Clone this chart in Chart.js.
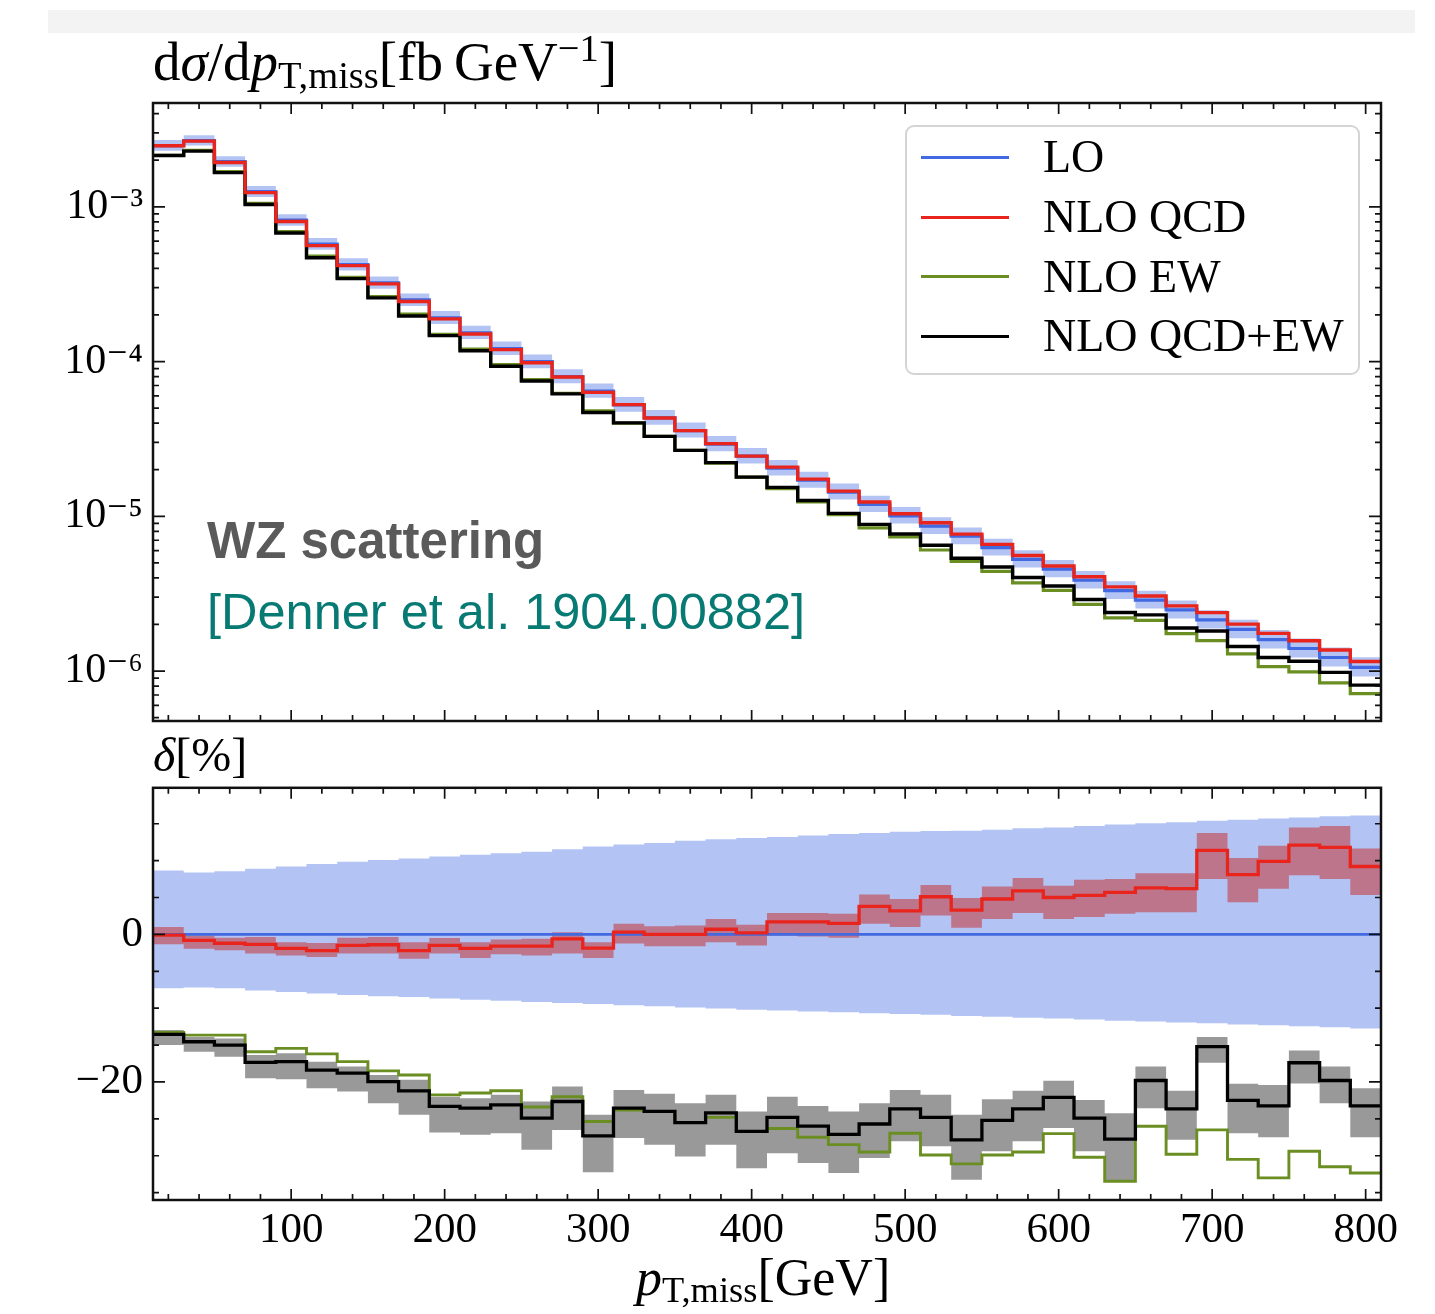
<!DOCTYPE html>
<html><head><meta charset="utf-8">
<script src="https://cdn.jsdelivr.net/npm/chart.js@4.4.1/dist/chart.umd.min.js"></script>
<style>
html,body{margin:0;padding:0;background:#fff;}
body{width:1435px;height:1314px;position:relative;overflow:hidden;font-family:'Liberation Serif',serif;}
#strip{position:absolute;left:48px;top:10px;width:1367px;height:23px;background:#f3f3f3;}
canvas{position:absolute;left:0;}
#c1{top:0;}
#c2{top:760px;}
.t{position:absolute;white-space:nowrap;line-height:1;color:#000;}
.sub{font-size:0.7em;position:relative;top:0.2em;}
.sup{font-size:0.7em;position:relative;top:-0.5em;}
#legend{position:absolute;left:905px;top:125px;width:451px;height:246px;border:2px solid #d4d4d4;border-radius:9px;background:rgba(255,255,255,0.85);}
.lline{position:absolute;left:14px;width:88px;height:3px;}
.ltext{position:absolute;left:136px;font-size:46px;line-height:1;white-space:nowrap;font-family:'Liberation Serif',serif;}
.ann1{font-family:'Liberation Sans',Arial,sans-serif;font-weight:bold;color:#5a5a5a;font-size:51px;}
.ann2{font-family:'Liberation Sans',Arial,sans-serif;color:#087a74;font-size:50.5px;}
</style>
</head><body>
<div id="strip"></div>
<canvas id="c1" width="1435" height="760"></canvas>
<canvas id="c2" width="1435" height="554"></canvas>

<div class="t" style="left:153px;top:34px;font-size:55px;">d<i>σ</i>/d<i>p</i><span class="sub">T,miss</span>[fb&#8201;GeV<span class="sup">−1</span>]</div>
<div class="t" style="left:153px;top:731px;font-size:48px;"><i>δ</i>[%]</div>
<div class="t" style="left:636px;top:1252px;font-size:52px;"><i>p</i><span class="sub">T,miss</span>[GeV]</div>

<div class="t ann1" style="left:207px;top:515px;">WZ scattering</div>
<div class="t ann2" style="left:207px;top:587px;">[Denner et al. 1904.00882]</div>

<div id="legend">
  <div class="lline" style="top:29px;background:#4169e1;"></div>
  <div class="ltext" style="top:7px;">LO</div>
  <div class="lline" style="top:89px;background:#e8241c;"></div>
  <div class="ltext" style="top:67px;">NLO QCD</div>
  <div class="lline" style="top:148px;background:#6b8e23;"></div>
  <div class="ltext" style="top:127px;">NLO EW</div>
  <div class="lline" style="top:208px;background:#000;"></div>
  <div class="ltext" style="top:186px;">NLO QCD+EW</div>
</div>

<script>
// ---------------- data ----------------
const binEdges = [10,30,50,70,90,110,130,150,170,190,210,230,250,270,290,310,330,350,370,390,410,430,450,470,490,510,530,550,570,590,610,630,650,670,690,710,730,750,770,790,810];

// LO differential cross section [fb/GeV], one value per bin
const loXsec = [2.484e-3,2.68e-3,1.956e-3,1.252e-3,8.19e-4,5.74e-4,4.23e-4,3.22e-4,2.50e-4,1.917e-4,
                1.535e-4,1.213e-4,9.98e-5,7.99e-5,6.44e-5,5.25e-5,4.32e-5,3.58e-5,2.93e-5,2.445e-5,
                2.044e-5,1.71e-5,1.433e-5,1.193e-5,1.007e-5,8.64e-6,7.43e-6,6.28e-6,5.27e-6,4.55e-6,
                3.86e-6,3.31e-6,2.875e-6,2.484e-6,2.142e-6,1.858e-6,1.594e-6,1.399e-6,1.223e-6,1.056e-6];

// LO scale band, relative [%]
const loBandHigh = [8.65,8.4,8.55,8.9,9.2,9.55,9.85,10.1,10.3,10.55,10.8,11.0,11.2,11.55,11.9,12.2,12.4,12.7,12.9,13.05,
                    13.2,13.4,13.6,13.75,13.9,14.0,14.05,14.2,14.4,14.5,14.7,14.9,15.05,15.2,15.4,15.55,15.7,15.85,16.0,16.1];
const loBandLow  = [-7.3,-7.2,-7.3,-7.6,-7.8,-8.0,-8.2,-8.4,-8.5,-8.7,-8.85,-9.0,-9.15,-9.3,-9.45,-9.6,-9.75,-9.9,-10.05,-10.2,
                    -10.3,-10.45,-10.55,-10.7,-10.8,-10.9,-11.05,-11.15,-11.3,-11.4,-11.55,-11.7,-11.8,-11.95,-12.05,-12.2,-12.3,-12.45,-12.6,-12.75];
const deltaLO    = [0,0,0,0,0,0,0,0,0,0,0,0,0,0,0,0,0,0,0,0,0,0,0,0,0,0,0,0,0,0,0,0,0,0,0,0,0,0,0,0];

// NLO QCD relative correction [%] and its band
const deltaQCD     = [-0.1,-0.8,-1.2,-1.35,-1.9,-2.2,-1.5,-1.4,-2.2,-1.5,-1.9,-1.6,-1.6,-0.6,-1.85,0.3,0.0,0.0,0.7,0.2,
                      1.7,1.7,1.5,3.8,3.2,5.1,3.3,4.8,5.9,5.0,5.3,5.7,6.3,6.2,11.4,8.1,9.9,12.1,11.8,9.2];
const deltaQCDHigh = [1.0,-0.15,-0.45,-0.35,-1.05,-1.15,-0.45,-0.35,-1.05,-0.5,-1.05,-0.7,-0.6,0.3,-1.05,1.45,1.1,1.2,2.1,1.3,
                      2.9,2.9,2.8,5.4,4.8,6.7,4.95,6.5,7.65,6.6,7.4,7.5,8.3,8.3,13.75,10.35,12.0,14.5,14.7,11.65];
const deltaQCDLow  = [-1.35,-1.95,-2.15,-2.6,-2.85,-3.05,-2.6,-2.6,-3.3,-2.6,-3.2,-2.7,-2.85,-2.6,-3.2,-1.25,-1.6,-1.6,-1.05,-1.5,
                      -0.15,-0.3,-0.45,1.45,1.0,2.55,0.9,2.1,2.9,2.1,2.35,2.8,3.0,3.0,7.5,4.35,6.2,8.0,7.5,5.35];

// NLO EW relative correction [%]
const deltaEW = [-13.3,-13.65,-13.65,-15.9,-15.45,-16.2,-17.25,-18.5,-19.05,-21.75,-21.5,-21.2,-23.4,-22.0,-25.35,-23.8,-24.0,-25.5,-24.8,-26.7,
                 -26.3,-27.5,-28.5,-29.5,-26.95,-29.9,-31.1,-29.9,-29.5,-27.0,-30.2,-33.45,-26.0,-29.8,-26.5,-30.5,-33.0,-29.4,-31.5,-32.35];

// NLO QCD+EW relative correction [%] and its band
const deltaQCDEW     = [-13.55,-14.55,-15.0,-17.35,-17.25,-18.4,-18.8,-19.95,-21.2,-23.3,-23.55,-23.1,-24.9,-22.65,-27.3,-23.55,-24.0,-25.5,-24.2,-26.7,
                        -24.8,-26.0,-27.1,-25.7,-23.65,-24.8,-27.85,-25.2,-23.65,-22.1,-24.9,-27.75,-19.8,-23.65,-15.2,-22.5,-23.25,-17.4,-19.8,-23.25];
const deltaQCDEWHigh = [-12.97,-13.9,-14.1,-16.35,-16.1,-17.25,-17.9,-19.05,-19.7,-22.0,-22.2,-21.75,-22.65,-20.6,-24.45,-21.1,-21.6,-22.9,-21.75,-24.0,
                        -22.0,-23.25,-24.0,-22.9,-21.1,-21.75,-24.45,-22.35,-21.2,-19.85,-22.45,-24.25,-17.9,-21.2,-13.9,-20.25,-20.4,-15.75,-17.9,-20.85];
const deltaQCDEWLow  = [-15.0,-15.9,-16.6,-19.5,-19.65,-20.85,-21.3,-22.9,-24.45,-26.85,-27.15,-26.95,-29.2,-26.5,-32.25,-27.6,-28.5,-30.1,-28.5,-31.7,
                        -29.65,-31.0,-32.35,-30.3,-28.05,-28.7,-33.25,-29.4,-28.05,-26.25,-29.4,-33.45,-23.55,-27.85,-17.4,-26.95,-27.5,-20.2,-22.9,-27.5];

// tick labels
const xTickValues = [100,200,300,400,500,600,700,800];
const xTickLabels = ['100','200','300','400','500','600','700','800'];
const yTopTickValues = [1e-6,1e-5,1e-4,1e-3];
const yTopTickLabels = ['10⁻⁶','10⁻⁵','10⁻⁴','10⁻³'];
const yBotTickValues = [-20,0];
const yBotTickLabels = ['−20','0'];

// ---------------- helpers ----------------
const C = {
  blue:'#4169e1', red:'#e8241c', green:'#6b8e23', black:'#000000',
  blueBand:'rgba(65,105,225,0.40)', redBand:'rgba(200,40,35,0.50)', greyBand:'#999999'
};
const FONT = "'Liberation Serif', 'DejaVu Serif', serif";

function hist(vals){ // step-histogram points on the bin edges
  return binEdges.map((e,i)=>({x:e, y: vals[Math.min(i, vals.length-1)]}));
}
function scaleRel(base, rel){ return base.map((b,i)=>b*(1+rel[i]/100)); }

const frameTicks = {
  id:'frameTicks',
  afterDraw(chart, args, o){
    const {ctx, chartArea:a} = chart;
    const sx = chart.scales.x, sy = chart.scales.y;
    ctx.save();
    ctx.strokeStyle = '#111';
    ctx.lineWidth = 1.7;
    ctx.beginPath();
    const vt = (v,len)=>{ const p = sx.getPixelForValue(v); ctx.moveTo(p,a.bottom); ctx.lineTo(p,a.bottom-len); ctx.moveTo(p,a.top); ctx.lineTo(p,a.top+len); };
    const ht = (v,len)=>{ const p = sy.getPixelForValue(v); ctx.moveTo(a.left,p); ctx.lineTo(a.left+len,p); ctx.moveTo(a.right,p); ctx.lineTo(a.right-len,p); };
    o.xMajor.forEach(v=>vt(v,11)); o.xMinor.forEach(v=>vt(v,6));
    o.yMajor.forEach(v=>ht(v,12)); o.yMinor.forEach(v=>ht(v,6));
    ctx.stroke();
    ctx.lineWidth = 2.5;
    ctx.strokeRect(a.left, a.top, a.right-a.left, a.bottom-a.top);
    ctx.restore();
  }
};

const xMinor = []; for(let v=20; v<=800; v+=20){ if(v%100) xMinor.push(v); }
const yTopMinor = []; for(let d=-7; d<=-3; d++){ for(let m=2;m<=9;m++){ const v=m*Math.pow(10,d); if(v>4.76e-7 && v<4.68e-3) yTopMinor.push(v);} }
const yBotMinor = []; for(let v=-35; v<=15; v+=5){ if(v!==0 && v!==-20) yBotMinor.push(v); }

function lineDS(label, vals, color, width, order){
  return {label, data:hist(vals), borderColor:color, borderWidth:width, backgroundColor:color,
          stepped:true, pointRadius:0, fill:false, order, borderJoinStyle:'miter', borderCapStyle:'butt'};
}
function bandDS(hi, lo, color, order){
  return [
    {data:hist(hi), borderWidth:0, borderColor:'rgba(0,0,0,0)', backgroundColor:color, stepped:true, pointRadius:0, fill:'+1', order},
    {data:hist(lo), borderWidth:0, borderColor:'rgba(0,0,0,0)', backgroundColor:'rgba(0,0,0,0)', stepped:true, pointRadius:0, fill:false, order}
  ];
}

// ---------------- top panel ----------------
const nloQCD = scaleRel(loXsec, deltaQCD);
const nloEW = scaleRel(loXsec, deltaEW);
const nloQCDEW = scaleRel(loXsec, deltaQCDEW);

new Chart(document.getElementById('c1'), {
  type:'line',
  data:{datasets:[
    ...bandDS(scaleRel(loXsec, loBandHigh), scaleRel(loXsec, loBandLow), C.blueBand, 10),
    lineDS('LO', loXsec, C.blue, 3.2, 6),
    lineDS('NLO EW', nloEW, C.green, 3.2, 5),
    lineDS('NLO QCD+EW', nloQCDEW, C.black, 3.4, 4),
    lineDS('NLO QCD', nloQCD, C.red, 3.4, 3)
  ]},
  options:{
    responsive:false, animation:false, devicePixelRatio:1,
    layout:{padding:{top:103, right:54, left:0, bottom:0}},
    plugins:{legend:{display:false}, tooltip:{enabled:false},
      frameTicks:{xMajor:xTickValues, xMinor, yMajor:yTopTickValues, yMinor:yTopMinor}},
    scales:{
      x:{type:'linear', min:10, max:810, grid:{display:false}, border:{display:false},
         ticks:{display:false}, afterFit(s){ s.height = 39; }},
      y:{type:'logarithmic', min:4.755e-7, max:4.686e-3, grid:{display:false}, border:{display:false},
         afterBuildTicks(s){ s.ticks = yTopTickValues.map(v=>({value:v})); },
         ticks:{callback:(v,i)=>yTopTickLabels[i], font:{family:FONT, size:42}, color:'#000', padding:2},
         afterFit(s){ s.width = 153; }}
    }
  },
  plugins:[frameTicks]
});

// ---------------- bottom panel ----------------
new Chart(document.getElementById('c2'), {
  type:'line',
  data:{datasets:[
    ...bandDS(loBandHigh, loBandLow, C.blueBand, 10),
    ...bandDS(deltaQCDHigh, deltaQCDLow, C.redBand, 9),
    ...bandDS(deltaQCDEWHigh, deltaQCDEWLow, C.greyBand, 8),
    lineDS('LO', deltaLO, C.blue, 2.6, 6),
    lineDS('NLO EW', deltaEW, C.green, 2.9, 5),
    lineDS('NLO QCD', deltaQCD, C.red, 3.3, 4),
    lineDS('NLO QCD+EW', deltaQCDEW, C.black, 3.3, 3)
  ]},
  options:{
    responsive:false, animation:false, devicePixelRatio:1,
    layout:{padding:{top:27, right:54, left:0, bottom:0}},
    plugins:{legend:{display:false}, tooltip:{enabled:false},
      frameTicks:{xMajor:xTickValues, xMinor, yMajor:yBotTickValues, yMinor:yBotMinor}},
    scales:{
      x:{type:'linear', min:10, max:810, grid:{display:false}, border:{display:false},
         afterBuildTicks(s){ s.ticks = xTickValues.map(v=>({value:v})); },
         ticks:{callback:(v,i)=>xTickLabels[i], font:{family:FONT, size:43}, color:'#000', padding:-3, maxRotation:0, autoSkip:false},
         afterFit(s){ s.height = 114; }},
      y:{type:'linear', min:-36.0, max:19.87, grid:{display:false}, border:{display:false},
         afterBuildTicks(s){ s.ticks = yBotTickValues.map(v=>({value:v})); },
         ticks:{callback:(v,i)=>yBotTickLabels[i], font:{family:FONT, size:43}, color:'#000', padding:2},
         afterFit(s){ s.width = 153; }}
    }
  },
  plugins:[frameTicks]
});
</script>
</body></html>
